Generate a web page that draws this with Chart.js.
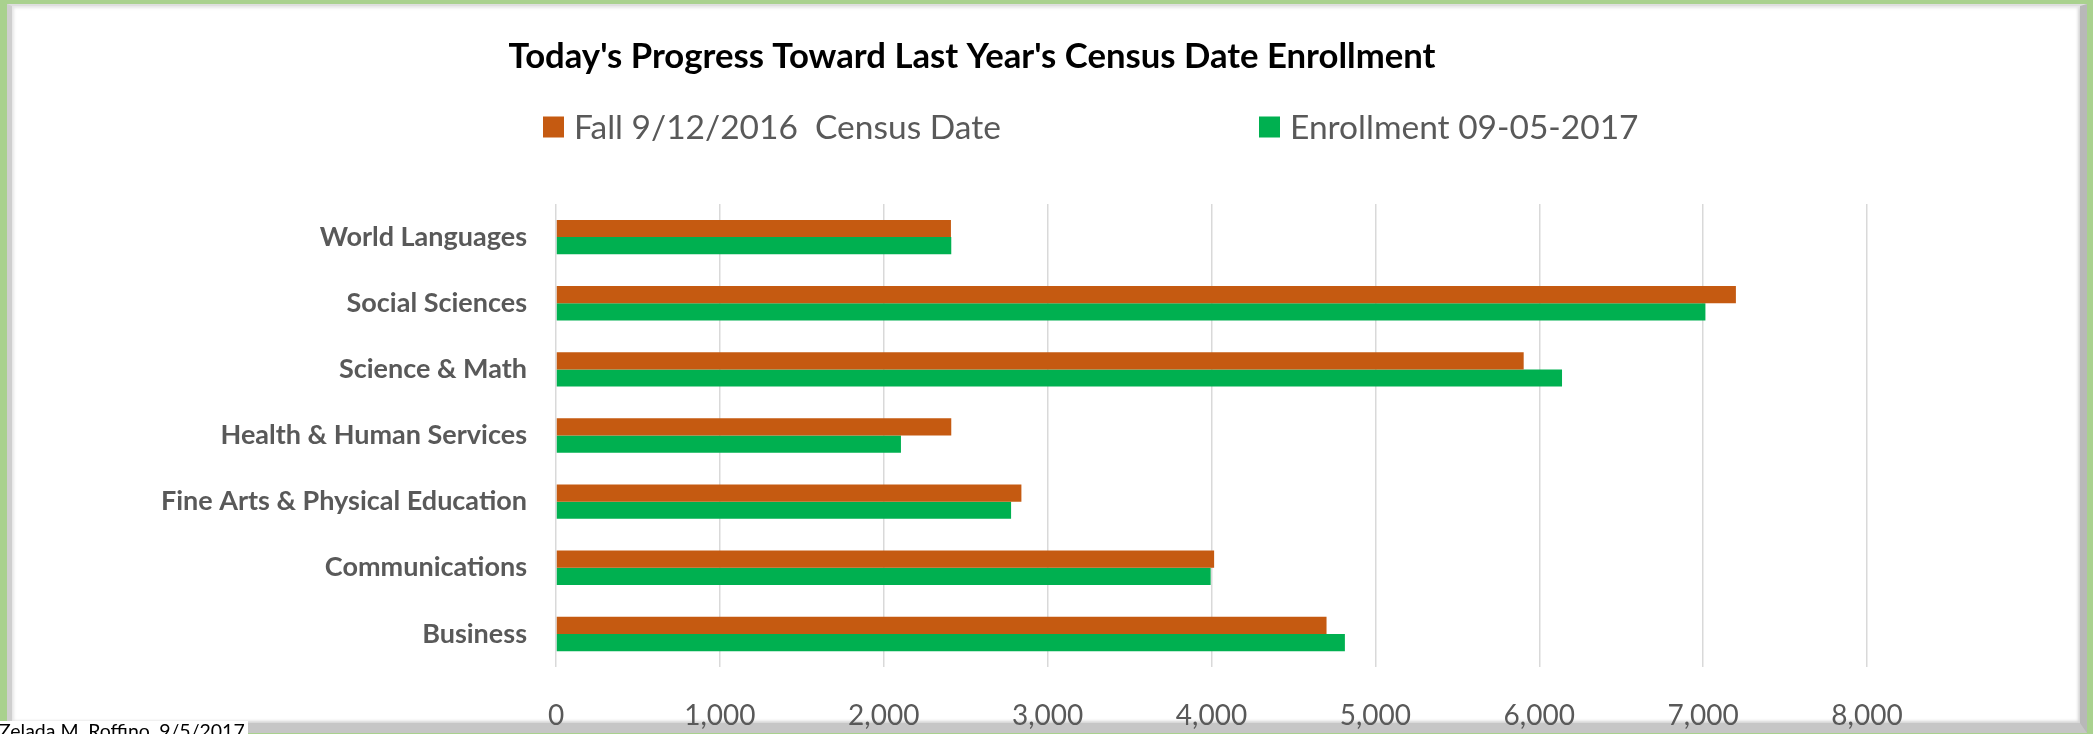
<!DOCTYPE html>
<html>
<head>
  <title>Today's Progress Toward Last Year's Census Date Enrollment</title>
  <script src="https://cdn.jsdelivr.net/npm/chart.js"></script>
  <style>
    html, body {
      margin: 0;
      padding: 0;
    }

    body {
      width: 2093px;
      height: 734px;
      overflow: hidden;
      position: relative;
      background: #a9d18e;
      font-family: Lato, sans-serif;
    }

    .frame {
      position: absolute;
      left: 7px;
      top: 4px;
      width: 2068px;
      height: 717px;
      background: #fff;
      border-left: 5px solid #cfcfcf;
      border-top: 2px solid #dedede;
      border-right: 7px solid #b8b8b8;
      border-bottom: 10px solid #c6c6c6;
      box-shadow: inset 2px 2px 3px #e6e6e6, inset -2px -2px 3px #d4d4d4;
    }

    #enrollChart {
      position: absolute;
      left: 0;
      top: 0;
    }

    .stamp {
      position: absolute;
      left: -1px;
      top: 721px;
      font-size: 19.5px;
      line-height: 19px;
      color: #000;
      background: #fff;
      padding-right: 3px;
      white-space: nowrap;
    }
  </style>
</head>
<body>
  <div class="frame"></div>
  <canvas id="enrollChart" width="2093" height="734"></canvas>
  <div class="stamp">Zelada M. Roffino, 9/5/2017</div>
  <script>
    // Departments, top to bottom as they appear on the chart
    const departments = [
      'World Languages',
      'Social Sciences',
      'Science & Math',
      'Health & Human Services',
      'Fine Arts & Physical Education',
      'Communications',
      'Business',
    ];

    // Enrollment counts
    const fallCensus2016 = [2410, 7200, 5905, 2412, 2840, 4016, 4702];
    const enrollment2017 = [2412, 7014, 6139, 2105, 2777, 3995, 4814];

    // Value axis ticks
    const axisTicks = [0, 1000, 2000, 3000, 4000, 5000, 6000, 7000, 8000];

    const seriesNames = ['Fall 9/12/2016  Census Date', 'Enrollment 09-05-2017'];
    const seriesColors = ['#c55a11', '#00b050'];

    const textGray = '#595959';

    // Legend drawn as one wide row, like the spreadsheet version
    const legendRow = {
      id: 'legendRow',
      afterDraw(chart) {
        const ctx = chart.ctx;
        const starts = [543, 1259];
        const boxSize = 21;
        const midY = 127;
        ctx.save();
        ctx.font = '33.5px Lato';
        ctx.textBaseline = 'middle';
        ctx.textAlign = 'left';
        chart.data.datasets.forEach((ds, i) => {
          ctx.fillStyle = ds.backgroundColor;
          ctx.fillRect(starts[i], midY - boxSize / 2, boxSize, boxSize);
          ctx.fillStyle = textGray;
          ctx.fillText(ds.label, starts[i] + boxSize + 10, midY + 1);
        });
        ctx.restore();
      }
    };

    function drawChart() {
      const ctx = document.getElementById('enrollChart').getContext('2d');

      new Chart(ctx, {
        type: 'bar',
        data: {
          labels: departments,
          datasets: [
            {
              label: seriesNames[0],
              data: fallCensus2016,
              backgroundColor: seriesColors[0],
            },
            {
              label: seriesNames[1],
              data: enrollment2017,
              backgroundColor: seriesColors[1],
            },
          ],
        },
        options: {
          indexAxis: 'y',
          responsive: false,
          animation: false,
          categoryPercentage: 0.52,
          barPercentage: 1.0,
          layout: {
            padding: { left: 77, right: 226, top: 0, bottom: 0 },
          },
          plugins: {
            legend: { display: false },
            tooltip: { enabled: false },
            title: {
              display: true,
              text: "Today's Progress Toward Last Year's Census Date Enrollment",
              color: '#000',
              font: { family: 'Lato', size: 34.7, weight: 'bold' },
              padding: { top: 36, bottom: 126.4 },
            },
          },
          scales: {
            x: {
              min: axisTicks[0],
              max: axisTicks[axisTicks.length - 1],
              afterBuildTicks: (scale) => {
                scale.ticks = axisTicks.map((v) => ({ value: v }));
              },
              afterFit: (scale) => {
                scale.height = 67;
              },
              grid: {
                color: '#d9d9d9',
                lineWidth: 1.5,
                drawTicks: false,
              },
              border: { display: false },
              ticks: {
                color: textGray,
                font: { family: 'Lato', size: 28 },
                padding: 32,
              },
            },
            y: {
              afterFit: (scale) => {
                scale.width = 479;
              },
              grid: { display: false, drawTicks: false },
              border: { display: false },
              ticks: {
                color: textGray,
                font: { family: 'Lato', size: 27, weight: 'bold' },
                padding: 29,
              },
            },
          },
        },
        plugins: [legendRow],
      });
    }

    drawChart();
  </script>
</body>
</html>
